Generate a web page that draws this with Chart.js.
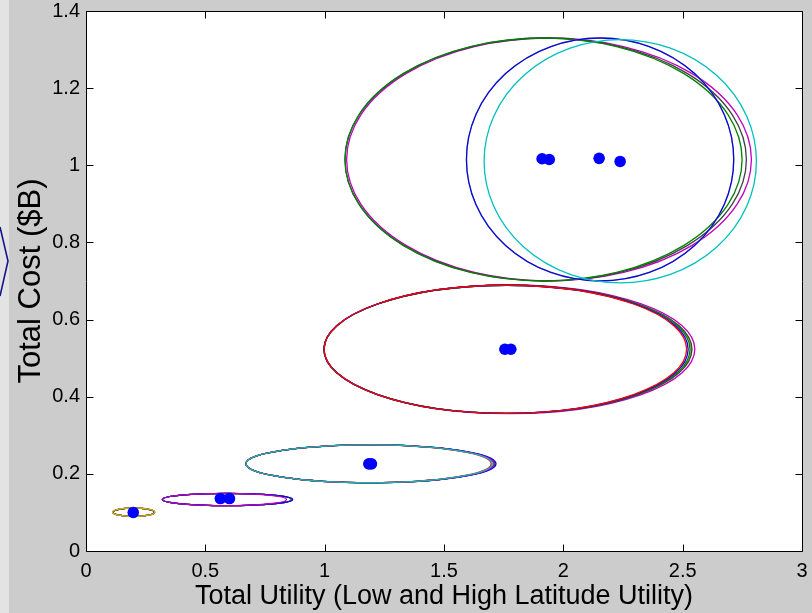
<!DOCTYPE html>
<html>
<head>
<meta charset="utf-8">
<script src="https://cdn.jsdelivr.net/npm/chart.js@4/dist/chart.umd.min.js"></script>
<style>
html,body{margin:0;padding:0;background:#cccccc;}
#wrap{position:relative;width:812px;height:613px;background:#cccccc;overflow:hidden;}
#strip{position:absolute;left:0;top:0;width:9px;height:613px;background:#e3e3e3;}
#chev{position:absolute;left:0;top:0;}
#c{position:absolute;left:0;top:0;}
</style>
</head>
<body>
<div id="wrap">
  <div id="strip"></div>
  <svg id="chev" width="20" height="613"><polyline points="0,227 8,261 0,296" fill="none" stroke="#16168a" stroke-width="1.6"/></svg>
  <canvas id="c" width="812" height="613"></canvas>
</div>
<script>
// ---- data ----
const xTickValues = [0, 0.5, 1, 1.5, 2, 2.5, 3];
const yTickValues = [0, 0.2, 0.4, 0.6, 0.8, 1, 1.2, 1.4];
const xAxisTitle = 'Total Utility (Low and High Latitude Utility)';
const yAxisTitle = 'Total Cost ($B)';

// mean design points (blue dots)
const dotX = [0.198, 0.563, 0.601, 1.185, 1.196, 1.755, 1.780, 1.911, 1.941, 2.150, 2.238];
const dotY = [0.100, 0.136, 0.136, 0.226, 0.226, 0.523, 0.523, 1.017, 1.015, 1.018, 1.010];

// uncertainty ellipses: centre, semi-axes, colour (drawn in this order)
const ellipseCx = [
  0.200, 0.200, 0.200, 0.200, 0.200, 0.200, 0.200,
  0.592, 0.592, 0.592, 0.592, 0.590, 0.593, 0.580,
  1.188, 1.190, 1.192, 1.194, 1.190, 1.184, 1.186,
  1.767, 1.767, 1.774, 1.768, 1.764, 1.760, 1.757,
  1.940, 1.926, 1.917, 2.154, 2.154, 2.2385
];
const ellipseCy = [
  0.1005, 0.1005, 0.1005, 0.1005, 0.1005, 0.1005, 0.1005,
  0.1335, 0.1335, 0.1335, 0.1335, 0.1335, 0.1335, 0.1335,
  0.226, 0.226, 0.226, 0.226, 0.226, 0.226, 0.226,
  0.523, 0.523, 0.523, 0.523, 0.523, 0.523, 0.523,
  1.015, 1.015, 1.015, 1.015, 1.015, 1.0105
];
const ellipseRx = [
  0.087, 0.087, 0.087, 0.087, 0.087, 0.088, 0.089,
  0.272, 0.272, 0.272, 0.272, 0.270, 0.273, 0.260,
  0.518, 0.520, 0.522, 0.524, 0.520, 0.514, 0.516,
  0.770, 0.770, 0.777, 0.771, 0.767, 0.763, 0.7595,
  0.848, 0.841, 0.832, 0.560, 0.560, 0.5705
];
const ellipseRy = [
  0.0105, 0.0105, 0.0105, 0.0105, 0.0105, 0.011, 0.011,
  0.016, 0.016, 0.016, 0.016, 0.016, 0.016, 0.016,
  0.049, 0.049, 0.049, 0.049, 0.049, 0.049, 0.049,
  0.166, 0.166, 0.167, 0.166, 0.166, 0.166, 0.166,
  0.315, 0.315, 0.315, 0.315, 0.315, 0.3155
];
const ellipseColor = [
  '#0000ff', '#008000', '#ff0000', '#00bfbf', '#404040', '#bf00bf', '#bfbf00',
  '#bfbf00', '#008000', '#ff0000', '#00bfbf', '#404040', '#0000ff', '#bf00bf',
  '#bfbf00', '#404040', '#008000', '#0000ff', '#bf00bf', '#ff0000', '#00bfbf',
  '#00bfbf', '#bfbf00', '#bf00bf', '#404040', '#008000', '#0000ff', '#ff0000',
  '#bf00bf', '#404040', '#008000', '#bfbf00', '#0000ff', '#00bfbf'
];

// ---- plugins ----
const areaBg = {
  id: 'areaBg',
  beforeDraw(chart) {
    const {ctx, chartArea: a} = chart;
    ctx.save();
    ctx.fillStyle = '#ffffff';
    ctx.fillRect(a.left, a.top, a.right - a.left, a.bottom - a.top);
    ctx.restore();
  }
};

const ellipses = {
  id: 'ellipses',
  beforeDatasetsDraw(chart) {
    const {ctx, chartArea: a, scales: {x, y}} = chart;
    ctx.save();
    ctx.beginPath();
    ctx.rect(a.left, a.top, a.right - a.left, a.bottom - a.top);
    ctx.clip();
    ctx.lineWidth = 1.3;
    for (let i = 0; i < ellipseCx.length; i++) {
      const cx = x.getPixelForValue(ellipseCx[i]);
      const cy = y.getPixelForValue(ellipseCy[i]);
      const rx = Math.abs(x.getPixelForValue(ellipseCx[i] + ellipseRx[i]) - cx);
      const ry = Math.abs(y.getPixelForValue(ellipseCy[i] + ellipseRy[i]) - cy);
      ctx.beginPath();
      ctx.ellipse(cx, cy, rx, ry, 0, 0, Math.PI * 2);
      ctx.strokeStyle = ellipseColor[i];
      ctx.stroke();
    }
    ctx.restore();
  }
};

const frame = {
  id: 'frame',
  afterDraw(chart) {
    const {ctx, chartArea: a, scales: {x, y}} = chart;
    const L = Math.round(a.left) + 0.5, R = Math.round(a.right) + 0.5;
    const T = Math.round(a.top) + 0.5, B = Math.round(a.bottom) + 0.5;
    const tl = 7;
    ctx.save();
    ctx.strokeStyle = '#000000';
    ctx.lineWidth = 1;
    ctx.beginPath();
    ctx.rect(L, T, R - L, B - T);
    for (const v of xTickValues) {
      const px = Math.round(x.getPixelForValue(v)) + 0.5;
      ctx.moveTo(px, B); ctx.lineTo(px, B - tl);
      ctx.moveTo(px, T); ctx.lineTo(px, T + tl);
    }
    for (const v of yTickValues) {
      const py = Math.round(y.getPixelForValue(v)) + 0.5;
      ctx.moveTo(L, py); ctx.lineTo(L + tl, py);
      ctx.moveTo(R, py); ctx.lineTo(R - tl, py);
    }
    ctx.stroke();
    ctx.restore();
  }
};

const fontFamily = '"Liberation Sans", Arial, sans-serif';

new Chart(document.getElementById('c'), {
  type: 'scatter',
  data: {
    datasets: [{
      label: 'designs',
      data: dotX.map((v, i) => ({x: v, y: dotY[i]})),
      backgroundColor: '#0000ff',
      borderColor: '#0000ff',
      borderWidth: 0,
      pointRadius: 5.8,
      pointHoverRadius: 5.8
    }]
  },
  options: {
    responsive: false,
    animation: false,
    devicePixelRatio: 1,
    events: [],
    layout: {padding: {left: 0, right: 10, top: 11, bottom: 0}},
    plugins: {legend: {display: false}, tooltip: {enabled: false}},
    scales: {
      x: {
        type: 'linear', min: 0, max: 3,
        afterBuildTicks(scale) { scale.ticks = xTickValues.map(v => ({value: v})); },
        afterFit(scale) { scale.height = 62; scale.paddingLeft = 0; scale.paddingRight = 0; },
        ticks: {
          font: {family: fontFamily, size: 20},
          color: '#000000',
          padding: 8,
          maxRotation: 0,
          autoSkip: false,
          callback: v => String(v)
        },
        grid: {display: false, drawTicks: false},
        border: {display: false},
        title: {
          display: true, text: xAxisTitle, color: '#000000',
          font: {family: fontFamily, size: 27},
          padding: {top: 0, bottom: 0}
        }
      },
      y: {
        type: 'linear', min: 0, max: 1.4,
        afterBuildTicks(scale) { scale.ticks = yTickValues.map(v => ({value: v})); },
        afterFit(scale) { scale.width = 86; scale.paddingTop = 0; scale.paddingBottom = 0; },
        ticks: {
          font: {family: fontFamily, size: 20},
          color: '#000000',
          padding: 6,
          autoSkip: false,
          callback: v => String(v)
        },
        grid: {display: false, drawTicks: false},
        border: {display: false},
        title: {
          display: true, text: yAxisTitle, color: '#000000',
          font: {family: fontFamily, size: 31},
          padding: {top: 13, bottom: 0}
        }
      }
    }
  },
  plugins: [areaBg, ellipses, frame]
});
</script>
</body>
</html>
